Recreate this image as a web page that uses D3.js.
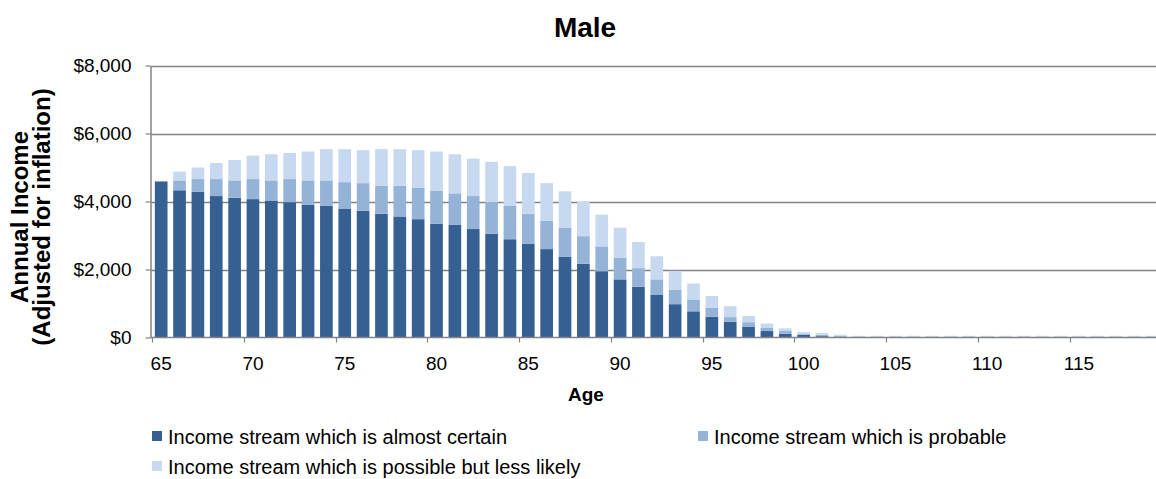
<!DOCTYPE html>
<html>
<head>
<meta charset="utf-8">
<script src="https://cdn.jsdelivr.net/npm/d3@7"></script>
<style>
  html, body { margin: 0; padding: 0; background: #fff; }
  svg { display: block; font-family: "Liberation Sans", Arial, sans-serif; }
</style>
</head>
<body>
<svg id="chart" width="1156" height="479"></svg>
<script>
// Age categories along the x axis
const ages = [65, 66, 67, 68, 69, 70, 71, 72, 73, 74, 75, 76, 77, 78, 79, 80, 81, 82, 83, 84,
              85, 86, 87, 88, 89, 90, 91, 92, 93, 94, 95, 96, 97, 98, 99, 100, 101, 102, 103, 104,
              105, 106, 107, 108, 109, 110, 111, 112, 113, 114, 115, 116, 117, 118, 119];

// Annual income components (dollars, adjusted for inflation)
const almostCertain = [4590, 4330, 4290, 4160, 4110, 4070, 4030, 3980, 3900, 3870, 3780, 3730, 3640, 3560, 3480,
                       3350, 3310, 3190, 3050, 2890, 2760, 2600, 2380, 2170, 1950, 1710, 1490, 1250, 980, 770,
                       610, 460, 310, 190, 110, 80, 40, 20, 15, 15, 15, 15, 15, 15, 15, 15, 15, 15, 15, 15,
                       15, 15, 15, 15, 15];
const probable = [0, 290, 370, 500, 510, 590, 590, 680, 720, 750, 790, 810, 820, 900, 920,
                  970, 930, 970, 930, 980, 880, 830, 840, 810, 730, 630, 550, 460, 430, 350,
                  260, 140, 140, 90, 80, 30, 40, 30, 15, 15, 15, 15, 15, 15, 15, 15, 15, 15, 15, 15,
                  15, 15, 15, 15, 15];
const possible = [0, 260, 340, 470, 600, 690, 770, 770, 850, 920, 970, 970, 1080, 1080, 1110,
                  1150, 1150, 1100, 1190, 1170, 1200, 1110, 1080, 1020, 930, 890, 770, 680, 550, 470,
                  350, 320, 180, 130, 80, 50, 50, 30, 20, 20, 20, 20, 20, 20, 20, 20, 20, 20, 20, 20,
                  20, 20, 20, 20, 20];

const seriesNames = ["Income stream which is almost certain",
                     "Income stream which is probable",
                     "Income stream which is possible but less likely"];
const seriesColors = ["#366092", "#95B3D7", "#C6D9F0"];

const xTickLabels = [65, 70, 75, 80, 85, 90, 95, 100, 105, 110, 115];
const yTicks = [0, 2000, 4000, 6000, 8000];

const titleText = "Male";
const xTitle = "Age";
const yTitleLines = ["Annual Income", "(Adjusted for inflation)"];

// ---- layout ----
const svg = d3.select("#chart");
const plotLeft = 152, step = 18.356;
const plotRight = plotLeft + step * ages.length;
const plotTop = 65.5, plotBottom = 337.5;
const gridColor = "#828282";

const x = d3.scaleBand()
  .domain(ages)
  .range([plotLeft, plotRight])
  .paddingInner(0.31)
  .paddingOuter(0.155);

const y = d3.scaleLinear().domain([0, 8000]).range([plotBottom, plotTop]);

// stacked rows
const rows = ages.map((a, i) => ({
  age: a, c0: almostCertain[i], c1: probable[i], c2: possible[i]
}));
const keys = ["c0", "c1", "c2"];
const stacked = d3.stack().keys(keys)(rows);

// gridlines
svg.append("g")
  .selectAll("line")
  .data(yTicks.filter(d => d > 0))
  .join("line")
  .attr("x1", plotLeft - 1)
  .attr("x2", plotRight)
  .attr("y1", d => Math.round(y(d)) + 0.5)
  .attr("y2", d => Math.round(y(d)) + 0.5)
  .attr("stroke", gridColor)
  .attr("stroke-width", 1.3);

// bars
svg.append("g")
  .selectAll("g")
  .data(stacked)
  .join("g")
  .attr("fill", (d, i) => seriesColors[i])
  .selectAll("rect")
  .data(d => d)
  .join("rect")
  .attr("x", d => x(d.data.age))
  .attr("width", x.bandwidth())
  .attr("y", d => y(d[1]))
  .attr("height", d => Math.max(0, y(d[0]) - y(d[1])));

// y axis
const yAxis = d3.axisLeft(y)
  .tickValues(yTicks)
  .tickFormat(d3.format("$,"))
  .tickSize(5)
  .tickSizeOuter(0)
  .tickPadding(14);

const gy = svg.append("g")
  .attr("transform", `translate(${plotLeft - 1.5},0)`)
  .call(yAxis);
gy.select(".domain").attr("stroke", gridColor).attr("stroke-width", 1.5);
gy.selectAll(".tick line").attr("stroke", gridColor).attr("stroke-width", 1.2);
gy.selectAll(".tick text").attr("font-size", 19).attr("fill", "#000")
  .attr("font-family", "'Liberation Sans', Arial, sans-serif");

// x axis: baseline, boundary ticks every 5 years, labels at category centres
const gx = svg.append("g");
gx.append("line")
  .attr("x1", plotLeft - 1.5).attr("x2", plotRight)
  .attr("y1", plotBottom).attr("y2", plotBottom)
  .attr("stroke", gridColor).attr("stroke-width", 1.5);

const boundary = a => x(a) - (x.step() - x.bandwidth()) / 2;
gx.selectAll("line.tk")
  .data(xTickLabels)
  .join("line")
  .attr("class", "tk")
  .attr("x1", d => Math.round(boundary(d)) + 0.5)
  .attr("x2", d => Math.round(boundary(d)) + 0.5)
  .attr("y1", plotBottom)
  .attr("y2", plotBottom + 5)
  .attr("stroke", gridColor)
  .attr("stroke-width", 1.2);

const xLabelAxis = d3.axisBottom(x)
  .tickValues(xTickLabels)
  .tickSize(0)
  .tickPadding(19);
const gxl = svg.append("g")
  .attr("transform", `translate(0,${plotBottom})`)
  .call(xLabelAxis);
gxl.select(".domain").remove();
gxl.selectAll(".tick text").attr("font-size", 19).attr("fill", "#000")
  .attr("font-family", "'Liberation Sans', Arial, sans-serif");

// titles
svg.append("text")
  .attr("x", 585).attr("y", 37)
  .attr("text-anchor", "middle")
  .attr("font-size", 28).attr("font-weight", "bold")
  .text(titleText);

svg.append("text")
  .attr("x", 586).attr("y", 401)
  .attr("text-anchor", "middle")
  .attr("font-size", 19).attr("font-weight", "bold")
  .text(xTitle);

const yTitle = svg.append("text")
  .attr("transform", "translate(0,217) rotate(-90)")
  .attr("text-anchor", "middle")
  .attr("font-size", 24).attr("font-weight", "bold");
yTitle.selectAll("tspan")
  .data(yTitleLines)
  .join("tspan")
  .attr("x", 0)
  .attr("y", (d, i) => 28 + i * 22)
  .text(d => d);

// legend
const legendItems = [
  { name: seriesNames[0], color: seriesColors[0], x: 152, y: 431 },
  { name: seriesNames[1], color: seriesColors[1], x: 698, y: 431 },
  { name: seriesNames[2], color: seriesColors[2], x: 152, y: 461 }
];
const lg = svg.append("g").selectAll("g").data(legendItems).join("g")
  .attr("transform", d => `translate(${d.x},${d.y})`);
lg.append("rect").attr("width", 10).attr("height", 10).attr("fill", d => d.color);
lg.append("text")
  .attr("x", 16).attr("y", 13)
  .attr("font-size", 20)
  .attr("fill", "#000")
  .text(d => d.name);
</script>
</body>
</html>
